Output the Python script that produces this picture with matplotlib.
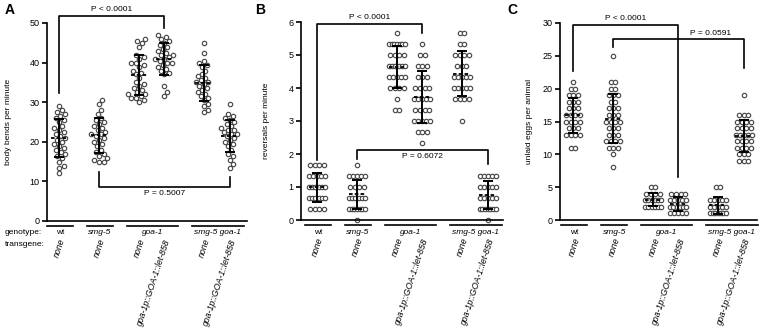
import matplotlib.pyplot as plt
import numpy as np

plt.rcParams['font.family'] = ['Liberation Sans', 'DejaVu Sans']

# group order: wt, smg-5, goa-1, goa-1 + transgene, smg-5 goa-1, smg-5 goa-1 + transgene
positions = [0, 1, 2, 2.63, 3.62, 4.27]
transgenes = ['none', 'none', 'none', 'goa-1p::GOA-1::let-858', 'none', 'goa-1p::GOA-1::let-858']
genotypes = ['wt', 'smg-5', 'goa-1', 'smg-5 goa-1']
genotype_groups = [[0], [1], [2, 3], [4, 5]]

# A - body bends per minute
bends_wt = [29, 28, 27.5, 27, 26.5, 26, 25.5, 25, 24, 23.5, 23, 22.5, 22, 21.5, 21, 20.5,
            20, 19.5, 19, 18.5, 18, 17.5, 17, 16.5, 16, 15, 14, 13.5, 12]
bends_smg5 = [30.5, 29.5, 28, 27, 26, 25.5, 25, 24.5, 24, 23.5, 23, 22.5, 22, 22, 21.5, 21,
              20.5, 20, 19.5, 19, 18, 17.5, 17, 16.5, 16, 15.5, 15, 15]
bends_goa1 = [46, 45.5, 45, 44, 42, 41.5, 41, 40, 40, 39.5, 39, 38, 37.5, 37, 36, 35, 34.5,
              34, 33.5, 33, 32.5, 32, 32, 31.5, 31, 31, 30.5, 30]
bends_goa1_tg = [47, 46.5, 46, 45.5, 45, 44.5, 44, 43.5, 43, 42.5, 42, 42, 41.5, 41, 41, 40.5,
                 40, 40, 39.5, 39, 38.5, 38, 37.5, 37, 34, 32.5, 31.5]
bends_dbl = [45, 42.5, 40.5, 40, 39.5, 39, 38, 37, 36.5, 36, 35.5, 35, 35, 34.5, 34, 33.5,
             33, 32.5, 32, 31.5, 31, 30.5, 29.5, 29, 28, 27.5]
bends_dbl_tg = [29.5, 27, 26.5, 26, 25.5, 25, 24.5, 24, 23.5, 23, 23, 22.5, 22, 22, 21.5, 21,
                20.5, 20, 19.5, 19, 18, 17, 16.5, 15.5, 14.5, 13.5]

# B - reversals per minute
rev_wt = [1.67, 1.67, 1.67, 1.67, 1.33, 1.33, 1.33, 1.33, 1.33, 1.0, 1.0, 1.0, 1.0, 1.0, 1.0,
          0.67, 0.67, 0.67, 0.67, 0.67, 0.67, 0.33, 0.33, 0.33, 0.33]
rev_smg5 = [1.67, 1.33, 1.33, 1.33, 1.33, 1.33, 1.0, 1.0, 1.0, 1.0, 0.67, 0.67, 0.67, 0.67,
            0.67, 0.67, 0.33, 0.33, 0.33, 0.33, 0.33, 0.33, 0.33, 0.0]
rev_goa1 = [5.67, 5.33, 5.33, 5.33, 5.33, 5.33, 5.33, 5.33, 5.0, 5.0, 5.0, 5.0, 4.67, 4.67,
            4.67, 4.67, 4.67, 4.67, 4.33, 4.33, 4.33, 4.33, 4.33, 4.0, 4.0, 4.0, 4.0, 3.67,
            3.33, 3.33]
rev_goa1_tg = [5.33, 5.0, 5.0, 4.67, 4.67, 4.67, 4.33, 4.33, 4.33, 4.0, 4.0, 4.0, 4.0, 3.67,
               3.67, 3.67, 3.67, 3.67, 3.33, 3.33, 3.33, 3.33, 3.0, 3.0, 3.0, 3.0, 3.0, 2.67,
               2.67, 2.67, 2.33]
rev_dbl = [5.67, 5.67, 5.33, 5.33, 5.0, 5.0, 5.0, 5.0, 4.67, 4.67, 4.67, 4.33, 4.33, 4.33,
           4.33, 4.33, 4.0, 4.0, 4.0, 4.0, 4.0, 3.67, 3.67, 3.67, 3.67, 3.0]
rev_dbl_tg = [1.33, 1.33, 1.33, 1.33, 1.33, 1.0, 1.0, 1.0, 1.0, 1.0, 0.67, 0.67, 0.67, 0.67,
              0.67, 0.33, 0.33, 0.33, 0.33, 0.33, 0.33, 0.33, 0.0]

# C - unlaid eggs per animal
eggs_wt = [21, 20, 20, 19, 19, 19, 18, 18, 18, 17, 17, 17, 16, 16, 16, 16, 15, 15, 15, 15,
           14, 14, 14, 13, 13, 13, 13, 11, 11]
eggs_smg5 = [25, 21, 21, 20, 20, 19, 19, 19, 18, 18, 17, 17, 17, 16, 16, 16, 15, 15, 15, 15,
             14, 14, 14, 13, 13, 13, 12, 12, 12, 12, 11, 11, 11, 10, 8]
eggs_goa1 = [5, 5, 4, 4, 4, 4, 3, 3, 3, 3, 3, 3, 2, 2, 2, 2, 2, 2]
eggs_goa1_tg = [4, 4, 4, 4, 3, 3, 3, 3, 3, 2, 2, 2, 2, 2, 2, 1, 1, 1, 1, 1]
eggs_dbl = [5, 5, 3, 3, 3, 3, 3, 2, 2, 2, 2, 2, 1, 1, 1, 1, 1, 1, 1]
eggs_dbl_tg = [19, 16, 16, 16, 15, 15, 15, 15, 14, 14, 14, 14, 13, 13, 13, 13, 13, 12, 12,
               12, 12, 11, 11, 11, 11, 10, 10, 10, 9, 9, 9]

W, H = 760, 331


def swarm_offsets(vals, px_y, d):
    # simple beeswarm in pixel space, returns x offsets in px
    vals = np.asarray(vals, dtype=float)
    xs = np.zeros(len(vals))
    placed = []
    for i in np.argsort(vals):
        y = vals[i] * px_y
        cands = [0.0]
        for px, py in placed:
            dy = y - py
            if abs(dy) < d:
                dx = np.sqrt(d * d - dy * dy)
                cands += [px + dx, px - dx]
        cands.sort(key=abs)
        for c in cands:
            if all((c - px) ** 2 + (y - py) ** 2 >= d * d - 1e-6 for px, py in placed):
                break
        xs[i] = c
        placed.append((c, y))
    return xs


def row_offsets(vals, sp, maxw):
    vals = np.asarray(vals, dtype=float)
    xs = np.zeros(len(vals))
    for v in np.unique(vals):
        idx = np.where(np.isclose(vals, v))[0]
        n = len(idx)
        s = sp if n == 1 else min(sp, maxw / (n - 1))
        xs[idx] = (np.arange(n) - (n - 1) / 2) * s
    return xs


def panel(rect_px, xlim, ylim, yticks, ylabel, label_x, groups, discrete):
    l, b, w, h = rect_px
    ax = fig.add_axes([l / W, 1 - b / H, w / W, h / H])
    ax.set_xlim(*xlim)
    ax.set_ylim(*ylim)
    px_x = w / (xlim[1] - xlim[0])
    px_y = h / (ylim[1] - ylim[0])
    for pos, vals in zip(positions, groups):
        if discrete:
            off = row_offsets(vals, 4.6, 16)
        else:
            off = swarm_offsets(vals, px_y, 5.0)
        ax.scatter(pos + off / px_x, vals, s=10, facecolor='white', edgecolor='#4a4a4a',
                   linewidth=0.85, zorder=2, clip_on=False)
        m = np.mean(vals)
        sd = np.std(vals, ddof=1)
        ax.errorbar(pos, m, yerr=sd, color='black', lw=1.4, capsize=3.8, capthick=1.4,
                    zorder=3)
        ax.plot([pos - 8.5 / px_x, pos + 8.5 / px_x], [m, m], color='black', lw=1.3,
                ls=(0, (2, 1.2)), zorder=3)
    ax.spines[['top', 'right']].set_visible(False)
    ax.spines[['left', 'bottom']].set_linewidth(1.2)
    ax.set_xticks([])
    ax.set_yticks(yticks)
    ax.tick_params(axis='y', length=3.5, width=1.2, labelsize=6.5, pad=2)
    ax.set_ylabel(ylabel, fontsize=6)
    ax.yaxis.set_label_coords(label_x, 0.5)

    # genotype lines and transgene labels under the axis
    tr = ax.get_xaxis_transform()
    for name, idx in zip(genotypes, genotype_groups):
        x0 = positions[idx[0]] - 12 / px_x
        x1 = positions[idx[-1]] + 14 / px_x
        ax.plot([x0, x1], [-5 / h, -5 / h], color='black', lw=1.2, transform=tr, clip_on=False)
        ax.text((x0 + x1) / 2, -12 / h, name, transform=tr, ha='center', va='center',
                fontsize=6, style='normal' if name == 'wt' else 'italic')
    for pos, tg in zip(positions, transgenes):
        ax.text(pos + 4 / px_x, -18 / h, tg, transform=tr, ha='right', va='center',
                rotation=72, rotation_mode='anchor', fontsize=6.3, style='italic')
    return ax


def bracket(ax, i, j, y_left, y_top, y_right, text, text_y, text_x=None, va='bottom'):
    xi, xj = positions[i], positions[j]
    ax.plot([xi, xi, xj, xj], [y_left, y_top, y_top, y_right], color='black', lw=1.2,
            clip_on=False, zorder=4)
    if text_x is None:
        text_x = (xi + xj) / 2
    ax.text(text_x, text_y, text, ha='center', va=va, fontsize=6)


fig = plt.figure(figsize=(W / 100, H / 100), dpi=100)

axA = panel((47, 221, 200, 198), (-0.3, 4.7), (0, 50), range(0, 51, 10),
            'body bends per minute', -0.175,
            [bends_wt, bends_smg5, bends_goa1, bends_goa1_tg, bends_dbl, bends_dbl_tg], False)
bracket(axA, 0, 3, 32.3, 51.8, 48.7, 'P < 0.0001', 52.4)
bracket(axA, 1, 5, 12.4, 8.6, 11.1, 'P = 0.5007', 7.8, va='top')

axB = panel((301, 220, 202, 198), (-0.4, 4.65), (0, 6), range(0, 7),
            'reversals per minute', -0.153,
            [rev_wt, rev_smg5, rev_goa1, rev_goa1_tg, rev_dbl, rev_dbl_tg], True)
bracket(axB, 0, 3, 1.82, 5.94, 5.67, 'P < 0.0001', 6.02)
bracket(axB, 1, 5, 1.85, 2.12, 1.7, 'P = 0.6072', 2.03, va='top')

axC = panel((560, 220, 197, 197), (-0.33, 4.6), (0, 30), range(0, 31, 5),
            'unlaid eggs per animal', -0.137,
            [eggs_wt, eggs_smg5, eggs_goa1, eggs_goa1_tg, eggs_dbl, eggs_dbl_tg], True)
bracket(axC, 0, 3, 22.7, 29.7, 6.5, 'P < 0.0001', 30.1)
bracket(axC, 1, 5, 26.3, 27.5, 23.1, 'P = 0.0591', 27.9, text_x=3.45)

fig.text(5 / W, 1 - 233 / H, 'genotype:', fontsize=6, va='center')
fig.text(5 / W, 1 - 245 / H, 'transgene:', fontsize=6, va='center')
for letter, x in zip('ABC', [5, 255, 507]):
    fig.text(x / W, 1 - 10 / H, letter, fontsize=10, fontweight='bold', va='center')

fig.savefig('out.png', dpi=100)
